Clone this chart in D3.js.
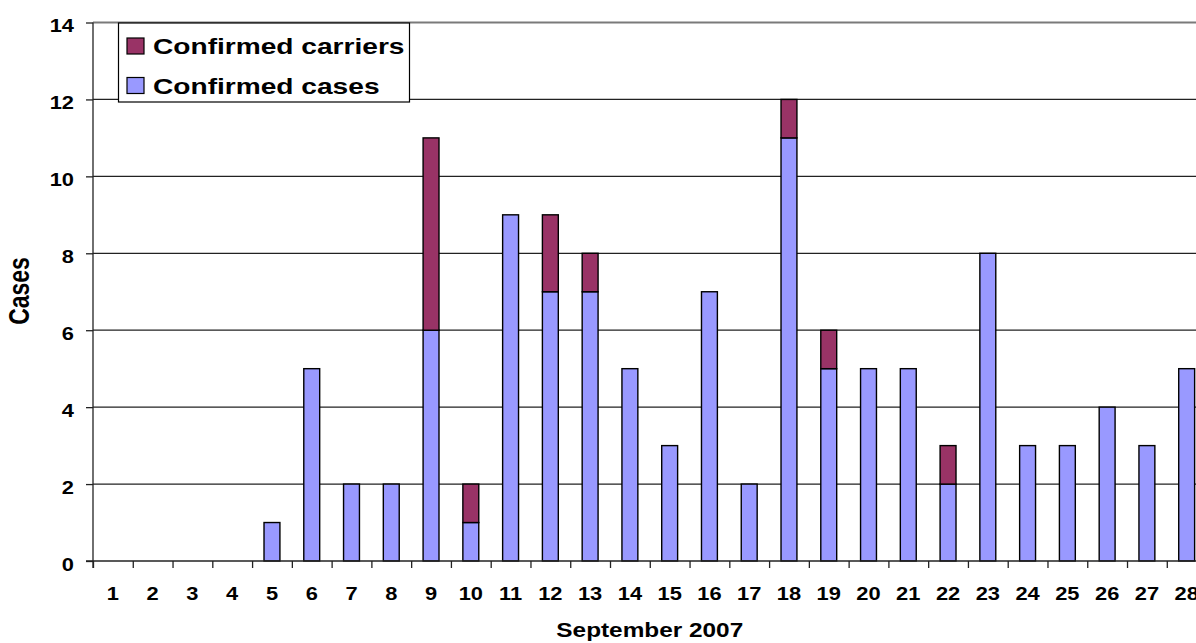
<!DOCTYPE html>
<html>
<head>
<meta charset="utf-8">
<script src="https://cdn.jsdelivr.net/npm/d3@7"></script>
<style>
  html, body { margin: 0; padding: 0; background: #fff; }
  svg { display: block; }
  text { font-family: "Liberation Sans", Arial, Helvetica, sans-serif; font-weight: bold; fill: #000; }
</style>
</head>
<body>
<svg id="chart" width="1196" height="643"></svg>
<script>
// Days of September 2007
const days = d3.range(1, 29).map(String);
// Confirmed cases per day
const confirmedCases = [0, 0, 0, 0, 1, 5, 2, 2, 6, 1, 9, 7, 7, 5, 3, 7, 2, 11, 5, 5, 5, 2, 8, 3, 3, 4, 3, 5];
// Confirmed carriers per day (stacked on top of cases)
const confirmedCarriers = [0, 0, 0, 0, 0, 0, 0, 0, 5, 1, 0, 2, 1, 0, 0, 0, 0, 1, 1, 0, 0, 1, 0, 0, 0, 0, 0, 0];
const yTicks = [0, 2, 4, 6, 8, 10, 12, 14];
const seriesNames = ["Confirmed carriers", "Confirmed cases"];
const seriesKeys = ["cases", "carriers"];
const colors = { cases: "#9999FF", carriers: "#993366" };

const SX = 1.25; // horizontal text stretch of the chart

const svg = d3.select("#chart");
const plotLeft = 93, plotTop = 22.5, plotBottom = 561;
const step = 39.77;
const plotRight = plotLeft + step * days.length;

const x = d3.scaleBand().domain(days).range([plotLeft, plotRight]).paddingInner(0.6).paddingOuter(0.3);
const xEdge = d3.scaleLinear().domain([0, days.length]).range([plotLeft, plotRight]);
const y = d3.scaleLinear().domain([0, 14]).range([plotBottom, plotTop]);

// horizontal gridlines
svg.append("g").selectAll("line").data(yTicks.filter(d => d > 0)).join("line")
  .attr("x1", plotLeft).attr("x2", 1196)
  .attr("y1", d => y(d)).attr("y2", d => y(d))
  .attr("stroke", d => d === 14 ? "#7a7a7a" : "#222")
  .attr("stroke-width", d => d === 14 ? 2 : 1.3);

// stacked bars
const rows = days.map((d, i) => ({ day: d, cases: confirmedCases[i], carriers: confirmedCarriers[i] }));
const stacked = d3.stack().keys(seriesKeys)(rows);
svg.append("g").selectAll("g").data(stacked).join("g")
  .attr("fill", s => colors[s.key])
  .selectAll("rect").data(s => s.filter(p => p[1] > p[0])).join("rect")
  .attr("x", p => x(p.data.day))
  .attr("width", x.bandwidth())
  .attr("y", p => y(p[1]))
  .attr("height", p => y(p[0]) - y(p[1]))
  .attr("stroke", "#000").attr("stroke-width", 1.4);

// y axis
const yAxis = svg.append("g").attr("transform", `translate(${plotLeft},0)`)
  .call(d3.axisLeft(y).tickValues(yTicks).tickSize(7).tickSizeOuter(0));
yAxis.select(".domain").attr("stroke", "#222").attr("stroke-width", 1.3)
  .attr("d", `M0,${plotTop}V${plotBottom + 7}`);
yAxis.selectAll(".tick line").attr("stroke", "#222").attr("stroke-width", 1.3);
yAxis.selectAll("text")
  .attr("font-size", 17.5).attr("font-weight", "bold")
  .attr("x", -19 / SX).attr("dy", "0.52em")
  .attr("transform", `scale(${SX},1)`);

// x axis line and boundary ticks
const xAxis = svg.append("g").attr("transform", `translate(0,${plotBottom})`)
  .call(d3.axisBottom(xEdge).tickValues(d3.range(0, days.length + 1)).tickSize(7).tickSizeOuter(0).tickFormat(""));
xAxis.select(".domain").attr("stroke", "#222").attr("stroke-width", 1.3)
  .attr("d", `M${plotLeft - 7},0H1196`);
xAxis.selectAll(".tick line").attr("stroke", "#222").attr("stroke-width", 1.3);

// day labels at band centres
svg.append("g").selectAll("text").data(days).join("text")
  .attr("transform", d => `translate(${x(d) + x.bandwidth() / 2},${plotBottom + 39}) scale(${SX},1)`)
  .attr("text-anchor", "middle").attr("font-size", 17.5)
  .text(d => d);

// axis titles
svg.append("text")
  .attr("transform", `translate(${(plotLeft + plotRight) / 2},636.5) scale(${SX},1)`)
  .attr("text-anchor", "middle").attr("font-size", 19.5)
  .text("September 2007");
svg.append("text")
  .attr("transform", `translate(29,291) scale(${SX},1) rotate(-90)`)
  .attr("text-anchor", "middle").attr("font-size", 23)
  .text("Cases");

// legend
const legend = svg.append("g");
legend.append("rect").attr("x", 118.5).attr("y", 23).attr("width", 291).attr("height", 79)
  .attr("fill", "#fff").attr("stroke", "#000").attr("stroke-width", 1.2);
const legendKeys = ["carriers", "cases"];
const ly = d3.scalePoint().domain(seriesNames).range([46, 85.5]);
legend.selectAll("rect.sw").data(seriesNames).join("rect").attr("class", "sw")
  .attr("x", 127).attr("y", d => ly(d) - 8).attr("width", 17).attr("height", 16)
  .attr("fill", (d, i) => colors[legendKeys[i]]).attr("stroke", "#000").attr("stroke-width", 1.2);
legend.selectAll("text").data(seriesNames).join("text")
  .attr("transform", d => `translate(153,${ly(d) + 8.2}) scale(${SX},1)`)
  .attr("font-size", 22.5)
  .text(d => d);
</script>
</body>
</html>
